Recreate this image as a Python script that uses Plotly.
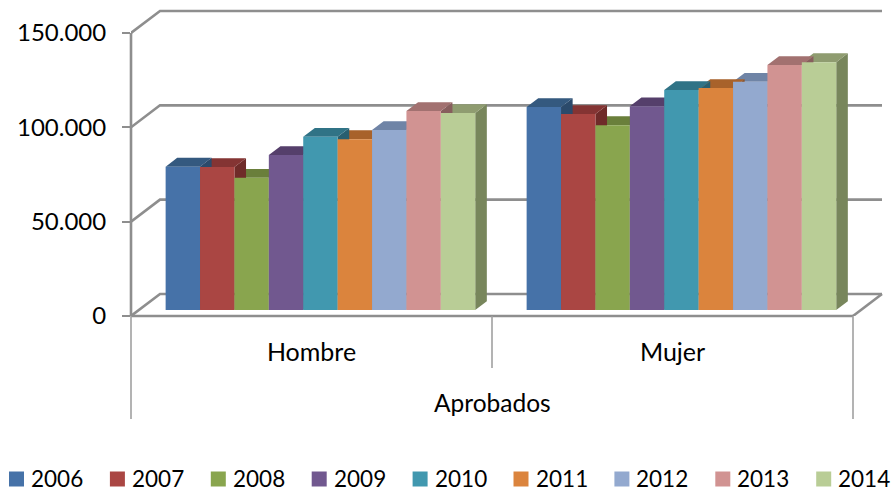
import plotly.graph_objects as go

categories = ["Hombre", "Mujer"]
years = ["2006", "2007", "2008", "2009", "2010", "2011", "2012", "2013", "2014"]
hombre = [76000, 75800, 70100, 82200, 91900, 90600, 95400, 105500, 104400]
mujer = [107600, 103900, 98000, 108000, 116600, 117700, 121000, 129900, 131400]
front_colors = ["#4672A8", "#AA4643", "#89A54E", "#71588F", "#4198AF", "#DB843D", "#93A9CF", "#D19392", "#B9CD96"]
top_colors = ["#34597F", "#843433", "#6A7F3B", "#553F6B", "#307386", "#A8622B", "#6F84A6", "#A27170", "#8F9C70"]
side_colors = ["#2B4A6B", "#6F2B29", "#586A31", "#473559", "#285F70", "#8C5124", "#5D6E8A", "#875E5D", "#78865C"]
y_ticks = [0, 50000, 100000, 150000]
y_labels = ["0", "50.000", "100.000", "150.000"]
group_title = "Aprobados"

W, H = 895, 492
LEFT, FLOOR = 131, 316
CAT_PX = 361.0
PX_PER_VAL = 283 / 150000
DX = 29 / CAT_PX
DY = 22 / PX_PER_VAL
D1, D2 = 0.27, 0.67
BAR_W = 34.4 / CAT_PX
PAD = 26.8 / CAT_PX
XR = [0, (W - LEFT) / CAT_PX]
YR = [0, FLOOR / PX_PER_VAL]
GRAY = "#8E8E8E"
FONT = "Lato"


def proj(x, v, d):
    return x + d * DX, v + d * DY


def px_x(p):
    return (p - LEFT) / (W - LEFT)


def px_y(p):
    return (FLOOR - p) / FLOOR


fig = go.Figure()


def line(xs, ys, width=2.6, color=GRAY):
    fig.add_trace(go.Scatter(x=xs, y=ys, mode="lines", line=dict(color=color, width=width),
                             showlegend=False, hoverinfo="skip"))


# walls and gridlines
for t in y_ticks:
    a = proj(0, t, 0)
    b = proj(0, t, 1)
    c = proj(2, t, 1)
    line([a[0], b[0], c[0]], [a[1], b[1], c[1]])
f = proj(2, 0, 1)
line([2, f[0]], [0, f[1]])

shapes = []


def frame(x0, y0, x1, y1, width=2.6, color=GRAY):
    shapes.append(dict(type="line", xref="paper", yref="paper", x0=px_x(x0), y0=px_y(y0),
                       x1=px_x(x1), y1=px_y(y1), line=dict(color=color, width=width), layer="above"))


frame(LEFT, FLOOR - 150000 * PX_PER_VAL, LEFT, FLOOR)
frame(LEFT, FLOOR, LEFT + 2 * CAT_PX, FLOOR)
frame(LEFT, FLOOR, LEFT, 419, 1.6, "#A0A0A0")
frame(LEFT + CAT_PX, FLOOR, LEFT + CAT_PX, 368, 1.6, "#A0A0A0")
frame(LEFT + 2 * CAT_PX, FLOOR, LEFT + 2 * CAT_PX, 419, 1.6, "#A0A0A0")

series_vals = list(zip(hombre, mujer))


def bar_left(cat, i):
    return cat + PAD + i * BAR_W


# side and top faces, right to left
for i in reversed(range(len(years))):
    sx, sy, tx, ty = [], [], [], []
    for cat, v in enumerate(series_vals[i]):
        xl = bar_left(cat, i)
        xr = xl + BAR_W
        for p in [proj(xr, 0, D1), proj(xr, v, D1), proj(xr, v, D2), proj(xr, 0, D2), proj(xr, 0, D1)]:
            sx.append(p[0]); sy.append(p[1])
        sx.append(None); sy.append(None)
        for p in [proj(xl, v, D1), proj(xr, v, D1), proj(xr, v, D2), proj(xl, v, D2), proj(xl, v, D1)]:
            tx.append(p[0]); ty.append(p[1])
        tx.append(None); ty.append(None)
    fig.add_trace(go.Scatter(x=sx, y=sy, mode="lines", fill="toself", fillcolor=side_colors[i],
                             line=dict(width=0, color=side_colors[i]), showlegend=False, hoverinfo="skip"))
    fig.add_trace(go.Scatter(x=tx, y=ty, mode="lines", fill="toself", fillcolor=top_colors[i],
                             line=dict(width=0, color=top_colors[i]), showlegend=False, hoverinfo="skip"))

# front faces on overlaying axes, so they sit above the faces behind them
for i, year in enumerate(years):
    fig.add_trace(go.Bar(
        x=[proj(bar_left(c, i) + BAR_W / 2, 0, D1)[0] for c in range(2)],
        y=list(series_vals[i]),
        base=D1 * DY,
        width=BAR_W,
        marker=dict(color=front_colors[i], line=dict(width=0)),
        name=year, showlegend=False, xaxis="x2", yaxis="y2",
    ))

# legend: the full row is wider than plotly's own legend allows at this pitch
annotations = [dict(xref="paper", yref="paper", x=px_x(LEFT + CAT_PX), y=px_y(402),
                    xanchor="center", yanchor="middle", text=group_title, showarrow=False,
                    font=dict(family=FONT, size=24.5, color="#000000"))]
KEY_X0, KEY_PITCH, KEY_SIZE, KEY_Y = 9, 100.9, 15, 479
for i, year in enumerate(years):
    kx = KEY_X0 + i * KEY_PITCH
    shapes.append(dict(type="rect", xref="paper", yref="paper", x0=px_x(kx), x1=px_x(kx + KEY_SIZE),
                       y0=px_y(KEY_Y - KEY_SIZE / 2), y1=px_y(KEY_Y + KEY_SIZE / 2),
                       fillcolor=front_colors[i], line=dict(width=0)))
    annotations.append(dict(xref="paper", yref="paper", x=px_x(kx + KEY_SIZE + 5), y=px_y(KEY_Y - 1),
                            xanchor="left", yanchor="middle", text=year, showarrow=False,
                            font=dict(family=FONT, size=22.5, color="#000000")))

fig.update_layout(
    width=W, height=H,
    margin=dict(l=LEFT, r=0, t=0, b=H - FLOOR, pad=0, autoexpand=False),
    paper_bgcolor="white", plot_bgcolor="white",
    font=dict(family=FONT, size=24, color="#000000"),
    barmode="overlay",
    shapes=shapes,
    annotations=annotations,
    xaxis=dict(range=XR, tickmode="array", tickvals=[0.5, 1.5], ticktext=categories,
               showgrid=False, zeroline=False, showline=False, ticks="", ticklen=0,
               ticklabelstandoff=19, tickfont=dict(family=FONT, size=25)),
    yaxis=dict(range=YR, tickmode="array", tickvals=y_ticks, ticktext=y_labels,
               showgrid=False, zeroline=False, showline=False,
               ticks="outside", ticklen=8, tickwidth=2, tickcolor=GRAY, ticklabelstandoff=11,
               tickfont=dict(family=FONT, size=24)),
    xaxis2=dict(range=XR, overlaying="x", visible=False),
    yaxis2=dict(range=YR, overlaying="y", visible=False),
    showlegend=False,
)

fig.write_html("out.html", config={"displayModeBar": False},
               post_script="document.body.style.margin='0';")
